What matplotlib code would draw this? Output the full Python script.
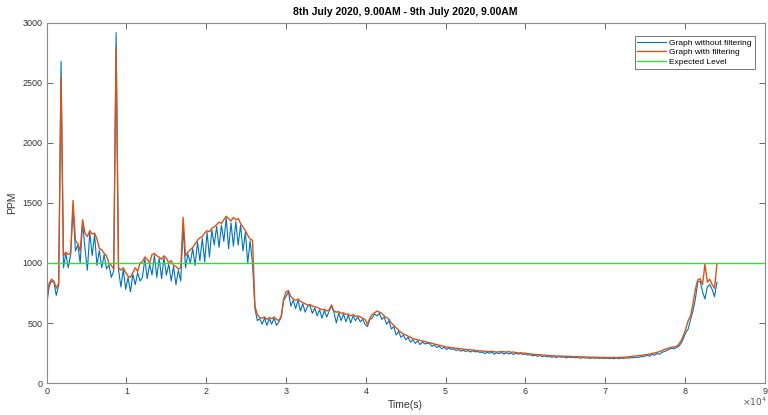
import numpy as np
import matplotlib.pyplot as plt

# CO2 log, one sample every 300 s from 0 to 84000 s
step = 300

# Graph with filtering
filtered = [
    700, 830, 865, 850, 790, 830, 2550, 1060, 1090, 1070,
    1080, 1520, 1190, 1160, 1100, 1360, 1250, 1220, 1270, 1240,
    1250, 1200, 1120, 1110, 1080, 1060, 1000, 980, 950, 2800,
    960, 940, 960, 920, 890, 880, 920, 960, 930, 1000,
    1010, 1050, 1030, 1000, 1070, 1080, 1060, 1050, 1030, 1060,
    1040, 1000, 1020, 980, 970, 950, 960, 1380, 1060, 1090,
    1110, 1130, 1160, 1190, 1210, 1220, 1250, 1270, 1260, 1290,
    1300, 1320, 1340, 1330, 1360, 1390, 1370, 1350, 1380, 1360,
    1370, 1330, 1300, 1270, 1230, 1200, 1190, 640, 570, 545,
    540, 550, 530, 545, 535, 550, 530, 520, 560, 700,
    760, 770, 720, 700, 690, 700, 680, 670, 660, 650,
    655, 640, 635, 630, 620, 610, 615, 600, 610, 650,
    600, 590, 595, 580, 585, 570, 575, 560, 570, 555,
    560, 550, 540, 530, 490, 540, 570, 585, 600, 590,
    580, 560, 545, 530, 500, 480, 460, 440, 420, 410,
    400, 390, 380, 370, 365, 360, 355, 350, 345, 340,
    335, 330, 325, 320, 315, 310, 305, 300, 298, 295,
    292, 290, 287, 285, 282, 280, 278, 276, 275, 272,
    270, 268, 266, 265, 263, 262, 265, 260, 258, 260,
    262, 260, 258, 262, 256, 258, 254, 250, 252, 250,
    248, 245, 242, 240, 238, 236, 235, 233, 232, 230,
    228, 228, 226, 225, 225, 224, 223, 222, 222, 221,
    220, 220, 219, 218, 218, 217, 216, 216, 215, 215,
    214, 214, 213, 213, 212, 212, 212, 213, 212, 213,
    214, 215, 216, 218, 220, 223, 225, 228, 230, 232,
    235, 238, 242, 246, 250, 255, 262, 270, 278, 285,
    292, 298, 300, 305, 320, 350, 395, 450, 520, 560,
    660, 780, 860, 870, 820, 990, 840, 865, 820, 790,
    990,
]

# Graph without filtering
raw = [
    650, 800, 850, 840, 730, 815, 2680, 960, 1080, 960,
    1070, 1450, 1100, 1150, 1000, 1340, 1120, 940, 1255, 1060,
    1235, 980, 1105, 960, 1070, 950, 985, 880, 935, 2920,
    945, 800, 945, 780, 880, 760, 905, 820, 920, 850,
    880, 1035, 870, 990, 900, 1065, 880, 1040, 870, 1045,
    900, 990, 850, 970, 820, 940, 850, 1300, 960, 1075,
    1000, 1120, 980, 1175, 1020, 1205, 1010, 1255, 1050, 1275,
    1150, 1305, 1130, 1315, 1180, 1375, 1120, 1335, 1140, 1345,
    1150, 1315, 1100, 1255, 1000, 1185, 990, 620, 520, 535,
    490, 540, 480, 535, 490, 540, 480, 510, 550, 690,
    720, 760, 640, 690, 620, 690, 600, 660, 590, 640,
    645, 580, 625, 560, 610, 540, 605, 550, 600, 640,
    590, 500, 585, 520, 575, 510, 565, 500, 560, 520,
    550, 510, 530, 490, 470, 530, 540, 575, 560, 580,
    530, 550, 490, 520, 450, 470, 400, 430, 380, 400,
    360, 382, 340, 362, 330, 352, 320, 342, 325, 332,
    328, 305, 318, 295, 308, 285, 298, 280, 292, 280,
    285, 270, 280, 265, 275, 262, 270, 258, 268, 260,
    262, 255, 258, 245, 255, 248, 258, 240, 252, 245,
    255, 240, 252, 242, 250, 238, 248, 240, 246, 238,
    242, 232, 236, 226, 232, 222, 230, 220, 226, 218,
    222, 214, 220, 212, 220, 214, 218, 210, 216, 212,
    215, 210, 214, 206, 212, 208, 210, 204, 210, 206,
    208, 206, 208, 204, 208, 203, 207, 202, 208, 203,
    208, 205, 210, 206, 212, 210, 215, 212, 220, 218,
    225, 230, 225, 238, 232, 245, 240, 255, 262, 270,
    280, 290, 285, 295, 305, 330, 370, 420, 450, 530,
    600, 700, 840, 850, 760, 700, 800, 820, 780, 720,
    840,
]

expected_level = 1000
x_ticks = [0, 1, 2, 3, 4, 5, 6, 7, 8, 9]
y_ticks = [0, 500, 1000, 1500, 2000, 2500, 3000]

t = np.arange(len(filtered)) * step

plt.rcParams['font.family'] = ['Liberation Sans', 'DejaVu Sans']

fig = plt.figure(figsize=(7.68, 4.15), dpi=100)
ax = fig.add_axes([0.0608, 0.0771, 0.935, 0.8675])

ax.plot(t, raw, color='#0072BD', lw=0.8, label='Graph without filtering')
ax.plot(t, filtered, color='#D95319', lw=1.0, label='Graph with filtering')
ax.axhline(expected_level, color='#33dd33', lw=1.0, label='Expected Level')

ax.set_xlim(0, 90000)
ax.set_ylim(0, 3000)
ax.set_xticks([v * 10000 for v in x_ticks])
ax.set_xticklabels([str(v) for v in x_ticks])
ax.set_yticks(y_ticks)

for s in ax.spines.values():
    s.set_color('#8a8a8a')
    s.set_linewidth(0.8)
ax.tick_params(direction='in', length=4, width=0.7, color='#666666',
               labelsize=6.5, labelcolor='#333333', top=True, right=True,
               labeltop=False, labelright=False, pad=3)

ax.set_title('8th July 2020, 9.00AM - 9th July 2020, 9.00AM',
             fontsize=7.5, fontweight='bold', pad=6)
ax.set_xlabel('Time(s)', fontsize=7.5, color='#333333', labelpad=3)
ax.set_ylabel('PPM', fontsize=7.5, color='#333333', labelpad=4)
fig.text(0.998, 0.018, r'$\times10^{4}$', ha='right', va='bottom',
         fontsize=6.5, color='#555555')

leg = ax.legend(loc='upper right', bbox_to_anchor=(0.9915, 0.975),
                fontsize=6, frameon=True, fancybox=False, handlelength=3.4,
                handletextpad=0.4, borderpad=0.35, labelspacing=0.2)
leg.get_frame().set_edgecolor('#555555')
leg.get_frame().set_linewidth(0.7)

fig.savefig('out.png', dpi=100)
